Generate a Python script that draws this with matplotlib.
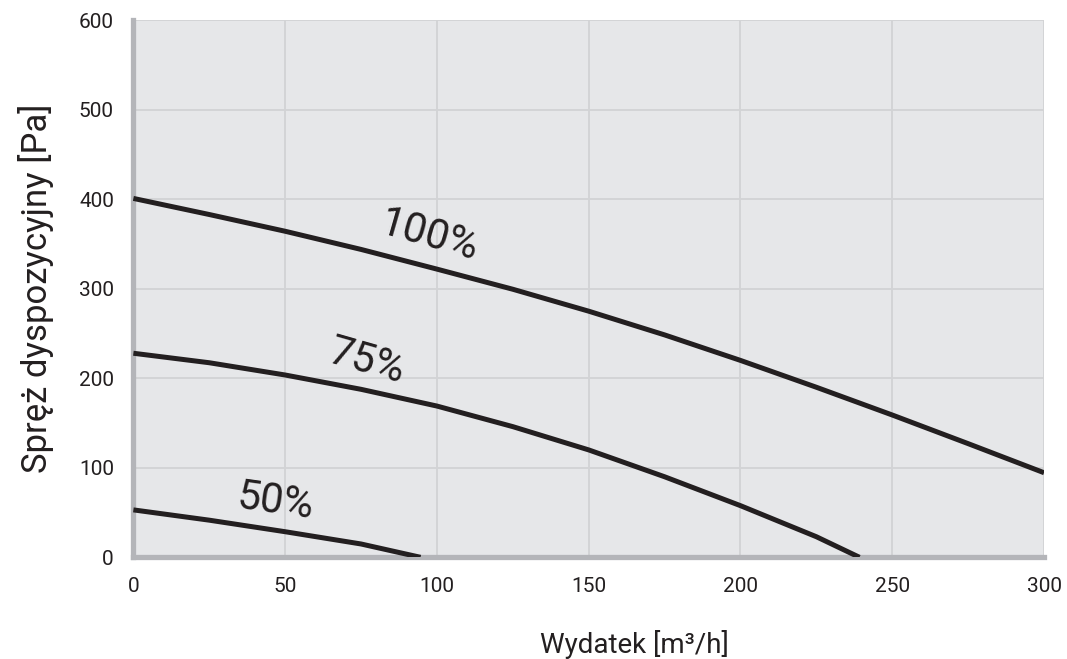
import matplotlib
matplotlib.use("Agg")
import matplotlib.pyplot as plt

plt.rcParams['font.family'] = ['Roboto', 'DejaVu Sans']

# Data
flow_100 = [0, 25, 50, 75, 100, 125, 150, 175, 200, 225, 250, 275, 300]
press_100 = [401, 383, 364.3, 344, 322, 299.5, 275, 248.5, 220, 190, 159, 127, 94.5]

flow_75 = [0, 25, 50, 75, 100, 125, 150, 175, 200, 225, 239.2]
press_75 = [228, 217.4, 203.7, 187.7, 169, 146, 120, 90, 57.7, 23, 0]

flow_50 = [0, 25, 50, 75, 94.6]
press_50 = [53, 41.5, 28.6, 14.9, 0]

labels = ["100%", "75%", "50%"]
label_pos_x = [97.4, 76.8, 47]
label_pos_y = [359, 218.5, 62]
label_rot = [-16, -16, -8]

x_ticks = [0, 50, 100, 150, 200, 250, 300]
y_ticks = [0, 100, 200, 300, 400, 500, 600]

fig = plt.figure(figsize=(10.67, 6.59), dpi=100)
ax = fig.add_axes([0.125, 0.1543, 0.8535, 0.8149])
ax.set_facecolor('#e6e7e9')

line_kw = dict(color='#231f20', lw=3.6, solid_capstyle='butt',
               solid_joinstyle='round', zorder=3)
ax.plot(flow_100, press_100, **line_kw)
ax.plot(flow_75, press_75, **line_kw)
ax.plot(flow_50, press_50, **line_kw)

for t, x, y, r in zip(labels, label_pos_x, label_pos_y, label_rot):
    ax.text(x, y, t, fontsize=30, rotation=r, ha='center', va='center',
            color='#231f20', rotation_mode='anchor', zorder=4)

ax.set_xlim(0, 300)
ax.set_ylim(0, 600)
ax.set_xticks(x_ticks)
ax.set_yticks(y_ticks)
ax.grid(True, color='#d2d3d5', lw=1.3, zorder=0)
ax.set_axisbelow(True)
ax.tick_params(length=0, labelsize=15, colors='#231f20')
ax.tick_params(axis='x', pad=14)
ax.tick_params(axis='y', pad=14)

for s in ['top', 'right']:
    ax.spines[s].set_visible(False)
for s in ['left', 'bottom']:
    ax.spines[s].set_color('#b4b5b9')
    ax.spines[s].set_linewidth(3.8)

ax.set_xlabel('Wydatek [m\u00b3/h]', fontsize=20, color='#231f20', labelpad=20)
ax.xaxis.set_label_coords(0.55, -0.135)
ax.set_ylabel('Spręż dyspozycyjny [Pa]', fontsize=25, color='#231f20', labelpad=18)

fig.savefig('out.png', dpi=100)
